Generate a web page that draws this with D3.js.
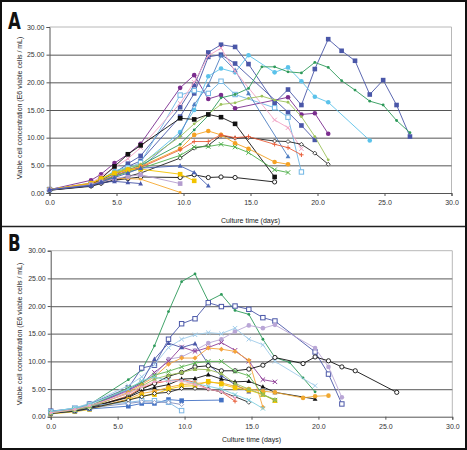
<!DOCTYPE html>
<html><head><meta charset="utf-8">
<script src="https://cdn.jsdelivr.net/npm/d3@7"></script>
<style>body{margin:0;background:#fff}svg{display:block}</style>
</head><body>
<script>
const n = null;
// ---------- Panel A data ----------
const daysA = [0, 3.1, 3.85, 4.85, 5.85, 6.8, 9.75, 10.8, 11.85, 12.8, 13.85, 14.85, 15.85, 16.8, 17.8, 18.8, 19.8, 20.8, 21.8, 22.8, 23.9, 24.9, 25.9, 26.9];
const a01 = [0.6, 2.3, 3.4, 5.4, 7.0, 8.9, 19.0, 21.3, 17.0, 17.7, 15.3, n, n, n, 17.3, 14.2, 14.4, 10.7];
const a02 = [0.7, 1.6, 2.5, 3.6, 5.3, 6.7, 15.5, 19.5, 25.4, 26.8, 26.4, 23.3, n, 16.3, 18.7, 15.9, 22.4, 27.8, 25.7, 23.9, 17.8, 20.4, 15.9, 10.2];
const a03 = [0.6, 1.5, 2.2, 3.0, 4.8, 5.8, 13.8, 18.0, 24.6, 25.0, 23.4, n, n, n, 14.6, 12.2, 9.6];
const a04 = [0.6, 1.8, 2.4, 4.0, 4.7, 5.0, 11.0, 15.0, 21.1, 22.5, 21.8, 24.9, n, 21.8, 22.7, 20.2, 17.4, 16.4, n, n, 9.5];
const a05 = [0.6, 1.7, 2.3, 3.6, 4.5, 5.5, 17.7, 18.5, 18.0, 20.2, 17.8, n, n, 15.4, 13.7, 3.8];
const a06 = [0.6, 1.5, 2.0, 3.0, 4.0, 4.6, 10.5, 16.0, 19.5, 24.8, 22.2, 18.0, n, n, 6.6];
const a07 = [0.6, 1.8, 3.0, 4.6, 6.2, 8.2, 16.2, 20.0, 24.8, 26.2, 22.0, n, n, 13.2, 11.8, 8.0];
const a08 = [0.6, 1.6, 2.3, 3.5, 4.2, 5.0, 8.8, 11.4, 14.0, 17.2, 17.8, 18.9, 22.8, 22.8, 21.9, 21.7, 23.6, 22.7, 20.3, 18.6, 16.6, 15.9, 13.1, 10.9];
const a09 = [0.6, 1.7, 2.6, 3.8, 4.5, 5.2, 10.2, 12.5, 14.3, 16.0, 16.3, 17.1, 17.5, 16.8, 16.4, 13.8, 10.2, 6.0];
const a10 = [0.6, 1.5, 2.6, 4.8, 7.0, 8.6, 13.5, 13.3, 14.2, 13.7, 12.5, n, n, 2.9];
const a11 = [0.5, 1.2, 1.7, 2.3, 3.0, 3.6, 6.3, 8.1, 8.6, 10.4, 9.9, 10.0, n, 9.4, 9.3, 8.8, 7.2, 5.2];
const a12 = [0.6, 1.8, 2.6, 3.6, 4.2, 4.8, 8.0, 10.5, 11.2, 10.5, 9.0, 8.0, n, 5.6, 5.2];
const a13 = [0.6, 1.6, 2.2, 3.2, 4.0, 4.6, 7.8, 9.3, 9.3, 10.5, 10.0, 10.2, n, 8.8, 8.2, 6.9];
const a14 = [0.6, 1.5, 2.0, 3.0, 3.8, 4.4, 6.8, 8.3, 8.4, 8.8, 8.3, 7.3, n, 4.2, 3.7];
const a15 = [0.5, 1.3, 1.8, 2.3, 2.6, 2.9, 2.8, 3.3, 2.8, 2.9, 2.8, n, n, 2.0];
const a16 = [0.6, 1.7, 2.6, 3.6, 4.2, 4.3, 3.4, 2.2];
const a17 = [0.6, 1.5, 2.0, 2.6, 2.6, 2.5, 0.1];
const a18 = [0.6, 1.5, 2.0, 2.6, 3.0, 3.3, 1.7];
const a19 = [0.6, 1.4, 2.0, 2.8, 3.6, 4.5, 4.9, 3.7, 1.3];
const a20 = [0.6, 1.3, 1.9, 2.1, 1.9, 1.7];

// ---------- Panel B data ----------
const daysB = [0, 1.8, 2.9, 5.8, 6.8, 7.75, 8.8, 9.78, 10.78, 11.77, 12.75, 13.77, 14.8, 15.85, 16.75, 17.85, 18.85, 19.75, 20.75, 21.75, 22.75, 25.85];
const b01 = [0.8, 1.4, 2.2, 6.7, 8.4, 12.8, 19.0, 24.4, 25.8, 20.9, 22.1, 19.2, 18.5, 14.0, 10.7, 9.8, 7.0, 4.5];
const b02 = [1.0, 1.5, 2.3, 5.2, 8.8, 9.3, 14.0, 16.8, 17.7, 20.6, 19.9, 20.0, 19.4, 17.9, 17.3, n, n, 11.7, 7.7, 2.3];
const b03 = [0.7, 1.3, 1.9, 4.6, 6.0, 7.5, 10.4, 10.8, 12.0, 13.3, 14.0, 15.4, 16.5, 16.0, 16.6, n, n, 12.4, 9.0, 3.5];
const b04 = [0.8, 1.6, 2.4, 5.6, 7.2, 9.4, 12.5, 14.0, 14.8, 15.2, 15.0, 16.0, 14.0, 13.0, 10.0, n, n, 5.6];
const b05 = [0.7, 1.2, 1.8, 4.8, 6.0, 8.0, 10.0, 12.6, 11.8, 12.5, 13.4, 12.0, 10.0, 6.7, 6.3];
const b06 = [0.7, 1.3, 1.9, 5.0, 6.2, 10.4, 13.3, 12.5, 13.2, 9.5, 7.4, 5.8, 4.5];
const b07 = [0.6, 1.1, 1.6, 4.4, 5.8, 7.2, 9.5, 10.6, 10.6, 12.4, 12.2, 11.8, 10.2, 1.7];
const b08 = [0.6, 1.0, 1.5, 3.8, 5.2, 6.0, 6.5, 6.8, 6.2, 5.0, 4.5, 2.8];
const b09 = [0.7, 1.2, 1.7, 3.6, 5.0, 6.0, 7.3, 8.0, 9.0, 9.2, 8.3, 8.3, 8.6, 9.3, 10.7, n, 9.6, 10.8, 10.1, 9.0, 8.3, 4.4];
const b10 = [0.6, 1.1, 1.6, 3.5, 4.6, 5.3, 5.8, 6.8, 6.9, 7.6, 6.8, 6.3, 6.4, 5.4, 4.4, n, n, 3.2];
const b11 = [0.6, 1.0, 1.4, 3.2, 4.2, 4.6, 5.3, 5.8, 6.0, 6.2, 6.1, 5.5, 5.0, 4.6, 4.4, n, 3.4, 3.7, 3.8];
const b12 = [0.5, 0.9, 1.3, 3.0, 3.8, 4.0, 5.0, 5.5, 5.6, 6.4, 5.9, 5.2, 4.8, 4.0, 2.9];
const b13 = [0.6, 1.0, 1.4, 1.9, 2.4, 2.4, 3.1, 2.9, n, n, 3.0];
const b14 = [0.9, 1.5, 2.0, 2.6, 2.9, 2.9, 2.6, 1.1];
const b15 = [0.8, 1.3, 1.6, 2.4, 2.7, 2.6, 2.6, 2.2];
const b16 = [0.6, 1.0, 1.5, 3.0, 3.6, 4.2, 4.4, 5.1, 5.1, 5.0, 4.5, 3.6, 2.6];
const b17 = [0.7, 1.3, 1.9, 5.2, 6.2, 7.5, 8.2, 9.0, 9.7, 10.0, 10.0, 8.2, 7.4, 4.0, 3.0];
const b18 = [0.7, 1.2, 1.8, 4.2, 5.5, 6.8, 7.5, 8.0, 8.6, 8.5, 7.8, 6.0, 5.0, 4.0, 3.1];
const b19 = [0.9, 1.6, 2.2, 5.0, 6.5, 7.2, 6.5, 6.6, 6.0, 5.5, 5.0, 4.0, 3.0, 1.5];
const b20 = [0.7, 1.3, 2.0, 4.2, 5.4, 6.3, 6.4, 6.5, 5.8, 5.0, 4.5, 3.4];

// ---------- Ticks & labels ----------
const xTicks = [0, 5, 10, 15, 20, 25, 30];
const yTicks = [0, 5, 10, 15, 20, 25, 30];
const xTitle = "Culture time (days)";
const yTitle = "Viable cell concentration (E6 viable cells / mL)";

// ---------- Styles (colour, marker) ----------
const stylesA = [
  ["#7B2D8E","circle"],["#4A57A8","square"],["#4A57A8","square"],["#5BC2EA","circle"],
  ["#6FB6E4","osquare"],["#4F7FC2","tri"],["#F2A2C4","x"],["#2E9A5A","dot"],
  ["#9CC25A","dot"],["#111111","square"],["#222222","odiamond"],["#F5A223","circle"],
  ["#E8603C","plus"],["#4DAF4A","x"],["#111111","ocircle"],["#F2C300","square"],
  ["#F5A830","dot"],["#B39CCF","square"],["#4A63B4","tri"],["#4A57A8","tri"]
];
const stylesB = [
  ["#2E9A5A","dot"],["#4A57A8","osquare"],["#B9A6D6","circle"],["#A0CCEA","x"],
  ["#8E3E98","x"],["#4A57A8","tri"],["#F5A33A","diamond"],["#E8603C","plus"],
  ["#111111","ocircle"],["#111111","tri"],["#F0A830","circle"],["#F2C300","square"],
  ["#4472C4","square"],["#7FB7E4","osquare"],["#7F8FC0","odiamond"],["#222222","odiamond"],
  ["#5BB450","x"],["#9BBB59","tri"],["#7ECFE0","x"],["#F4A6C8","dot"]
];
const seriesA = [a01,a02,a03,a04,a05,a06,a07,a08,a09,a10,a11,a12,a13,a14,a15,a16,a17,a18,a19,a20];
const seriesB = [b01,b02,b03,b04,b05,b06,b07,b08,b09,b10,b11,b12,b13,b14,b15,b16,b17,b18,b19,b20];

const W = 467, H = 450;
const svg = d3.select("body").append("svg").attr("width", W).attr("height", H);
svg.append("rect").attr("x",0).attr("y",0).attr("width",W).attr("height",H).attr("fill","#fff");

const FONT = "'Liberation Sans', Arial, sans-serif";

function marker(g, type, color, x, y) {
  const s = 2.2;
  if (type === "circle") g.append("circle").attr("cx",x).attr("cy",y).attr("r",2.3).attr("fill",color);
  else if (type === "ocircle") g.append("circle").attr("cx",x).attr("cy",y).attr("r",2.1).attr("fill","#fff").attr("stroke",color).attr("stroke-width",0.9);
  else if (type === "dot") g.append("circle").attr("cx",x).attr("cy",y).attr("r",1.4).attr("fill",color);
  else if (type === "square") g.append("rect").attr("x",x-2.3).attr("y",y-2.3).attr("width",4.6).attr("height",4.6).attr("fill",color);
  else if (type === "osquare") g.append("rect").attr("x",x-2.2).attr("y",y-2.2).attr("width",4.4).attr("height",4.4).attr("fill","#fff").attr("stroke",color).attr("stroke-width",1);
  else if (type === "tri") g.append("path").attr("d",`M${x},${y-2.6}L${x+2.4},${y+1.8}L${x-2.4},${y+1.8}Z`).attr("fill",color);
  else if (type === "x") g.append("path").attr("d",`M${x-s},${y-s}L${x+s},${y+s}M${x-s},${y+s}L${x+s},${y-s}`).attr("stroke",color).attr("stroke-width",1);
  else if (type === "plus") g.append("path").attr("d",`M${x-s},${y}L${x+s},${y}M${x},${y-s}L${x},${y+s}`).attr("stroke",color).attr("stroke-width",1);
  else if (type === "diamond") g.append("path").attr("d",`M${x},${y-2.5}L${x+2.5},${y}L${x},${y+2.5}L${x-2.5},${y}Z`).attr("fill",color);
  else if (type === "odiamond") g.append("path").attr("d",`M${x},${y-2}L${x+2},${y}L${x},${y+2}L${x-2},${y}Z`).attr("fill","#fff").attr("stroke",color).attr("stroke-width",0.8);
}

function panel(cfg) {
  const x = d3.scaleLinear().domain([0,30]).range([cfg.left, cfg.right]);
  const y = d3.scaleLinear().domain([0,30]).range([cfg.bottom, cfg.top]);
  const g = svg.append("g");
  g.append("path").attr("d",`M${cfg.left},${cfg.top}H${cfg.right}V${cfg.bottom}`)
    .attr("fill","none").attr("stroke","#b8b8b8").attr("stroke-width",1);
  const grid = g.append("g").attr("transform",`translate(${cfg.left},0)`)
    .call(d3.axisLeft(y).tickValues(yTicks.filter(v=>v>0 && v<30)).tickSize(-(cfg.right-cfg.left)).tickFormat(""));
  grid.select(".domain").remove();
  grid.selectAll("line").attr("stroke", cfg.gridColor).attr("stroke-width", cfg.gridWidth);
  const ya = g.append("g").attr("transform",`translate(${cfg.left},0)`)
    .call(d3.axisLeft(y).tickValues(yTicks).tickSize(3).tickPadding(2).tickFormat(d=>d.toFixed(2)));
  ya.select(".domain").attr("stroke","#555");
  ya.selectAll("line").attr("stroke","#555");
  ya.selectAll("text").attr("font-family",FONT).attr("font-size",7).attr("fill","#333");
  const xa = g.append("g").attr("transform",`translate(0,${cfg.bottom})`)
    .call(d3.axisBottom(x).tickValues(xTicks).tickSize(3).tickPadding(4).tickFormat(d=>d.toFixed(1)));
  xa.select(".domain").attr("stroke","#555");
  xa.selectAll("line").attr("stroke","#555");
  xa.selectAll("text").attr("font-family",FONT).attr("font-size",7).attr("fill","#333");
  g.append("text").attr("x",(cfg.left+cfg.right)/2).attr("y",cfg.xtitleY)
    .attr("text-anchor","middle").attr("font-family",FONT).attr("font-size",7).attr("fill","#222").text(xTitle);
  g.append("text").attr("transform",`translate(22,${cfg.ytitleY}) rotate(-90)`)
    .attr("text-anchor","middle").attr("font-family",FONT).attr("font-size",7).attr("fill","#222").text(yTitle);
  g.append("text").attr("transform",`translate(8,${cfg.letterY}) scale(0.8,1)`)
    .attr("font-family","'Liberation Sans Narrow','DejaVu Sans Condensed',sans-serif").attr("font-weight","bold")
    .attr("font-size",23).attr("fill","#111").text(cfg.letter);
  const line = d3.line().x(d=>x(d[0])).y(d=>y(d[1]));
  cfg.series.forEach((vals, i) => {
    const pts = vals.map((v,j)=>[cfg.days[j], v]).filter(p=>p[1] !== null && p[1] !== undefined);
    const [col, mk] = cfg.styles[i];
    g.append("path").attr("d", line(pts)).attr("fill","none").attr("stroke",col).attr("stroke-width",0.9);
    const mg = g.append("g");
    pts.forEach(p => marker(mg, mk, col, x(p[0]), y(p[1])));
  });
  return {x, y};
}

panel({left:49.5, right:451.5, top:27, bottom:193, days:daysA, series:seriesA, styles:stylesA,
  gridColor:"#555", gridWidth:1, xtitleY:222.5, ytitleY:108, letter:"A", letterY:28.5});
panel({left:50.7, right:452.3, top:250.7, bottom:416.7, days:daysB, series:seriesB, styles:stylesB,
  gridColor:"#7a7a7a", gridWidth:1.3, xtitleY:441.5, ytitleY:334, letter:"B", letterY:251});

svg.append("line").attr("x1",0).attr("x2",W).attr("y1",226.5).attr("y2",226.5).attr("stroke","#222").attr("stroke-width",1.5);
svg.append("rect").attr("x",1).attr("y",1).attr("width",W-2).attr("height",H-2).attr("fill","none").attr("stroke","#111").attr("stroke-width",2);
</script>
</body></html>
